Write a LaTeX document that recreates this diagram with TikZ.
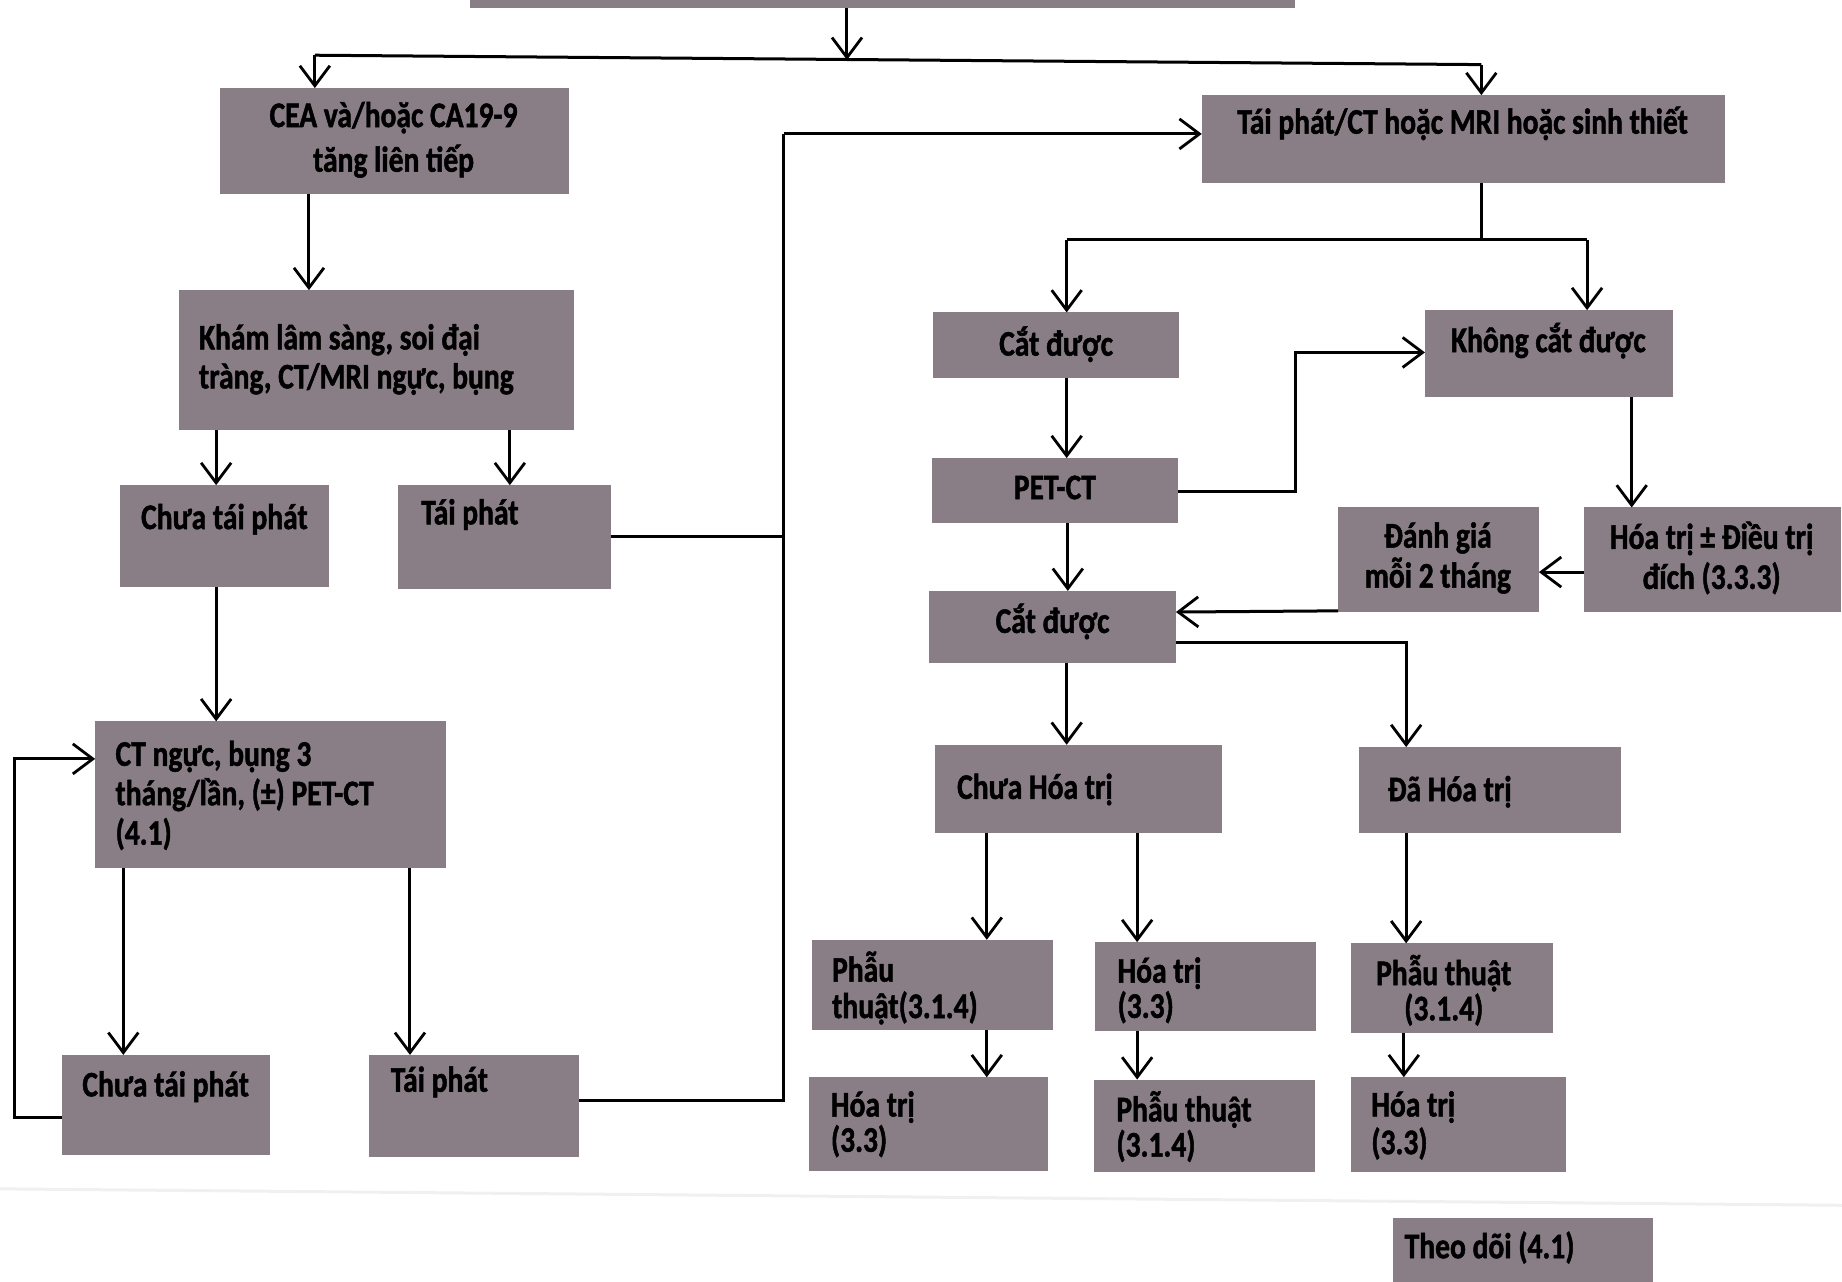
\documentclass[tikz,border=0pt]{standalone}
\usepackage{fontspec}
\setmainfont{Carlito}[FakeStretch=0.82, BoldFeatures={FakeBold=1.3}]
\usetikzlibrary{arrows.meta,fit}
\definecolor{boxfill}{RGB}{138,126,134}
\tikzset{
  box/.style={draw=none, fill=boxfill, inner sep=0pt, outer sep=0pt},
  txt/.style={font=\bfseries\fontsize{18}{20}\selectfont, text=black, inner sep=0pt},
  ln/.style={draw=black, line width=1.5pt},
  arr/.style={ln, -{Straight Barb[length=10pt,width=15pt,line width=1.4pt]}},
}
\begin{document}
\begin{tikzpicture}[x=0.587pt,y=-0.587pt]
\useasboundingbox (0,0) rectangle (1568,1091);
% faint scan seam
\draw[gray!12, line width=1.5pt] (0,1012) -- (1568,1026);
% boxes
\node[box, fit={(400,-20) (1102,7)}] (top) {};
\node[box, fit={(187,75) (484,165)}] (cea) {};
\node[box, fit={(152,247) (489,366)}] (kham) {};
\node[box, fit={(102,413) (280,500)}] (ctpa) {};
\node[box, fit={(339,413) (520,501)}] (tpa) {};
\node[box, fit={(81,614) (380,739)}] (ctn) {};
\node[box, fit={(53,898) (230,983)}] (ctpb) {};
\node[box, fit={(314,898) (493,985)}] (tpb) {};
\node[box, fit={(1023,81) (1468,156)}] (tpct) {};
\node[box, fit={(794,266) (1004,322)}] (cda) {};
\node[box, fit={(1213,264) (1424,338)}] (kcd) {};
\node[box, fit={(793,390) (1003,445)}] (pet) {};
\node[box, fit={(1348,432) (1567,521)}] (htd) {};
\node[box, fit={(1139,432) (1310,521)}] (dg) {};
\node[box, fit={(791,503) (1001,564)}] (cdb) {};
\node[box, fit={(796,634) (1040,709)}] (cht) {};
\node[box, fit={(1157,636) (1380,709)}] (dht) {};
\node[box, fit={(691,800) (896,877)}] (pta) {};
\node[box, fit={(932,802) (1120,878)}] (hta) {};
\node[box, fit={(1150,803) (1322,879)}] (ptb) {};
\node[box, fit={(689,917) (892,997)}] (htb) {};
\node[box, fit={(931,919) (1119,998)}] (ptc) {};
\node[box, fit={(1150,917) (1333,998)}] (htc) {};
\node[box, fit={(1186,1037) (1407,1100)}] (td) {};
% texts
\node[txt, align=center, font=\bfseries\fontsize{18}{22.3}\selectfont] (tcea) at (335,119) {CEA và/hoặc CA19-9\\tăng liên tiếp};
\node[txt, align=left, anchor=west, font=\bfseries\fontsize{18}{19.5}\selectfont] (tkham) at (169,306) {Khám lâm sàng, soi đại\\tràng, CT/MRI ngực, bụng};
\node[txt] (tctpa) at (191,442) {Chưa tái phát};
\node[txt] (ttpa) at (400,438) {Tái phát};
\node[txt, align=left, anchor=west, font=\bfseries\fontsize{18}{19.7}\selectfont] (tctn) at (98,677) {CT ngực, bụng 3\\tháng/lần, (±) PET-CT\\(4.1)};
\node[txt] (tctpb) at (141,925) {Chưa tái phát};
\node[txt] (ttpb) at (374,921) {Tái phát};
\node[txt] (ttpct) at (1245,105) {Tái phát/CT hoặc MRI hoặc sinh thiết};
\node[txt] (tcda) at (899,293) {Cắt được};
\node[txt] (tkcd) at (1318,290) {Không cắt được};
\node[txt] (tpet) at (898,415) {PET-CT};
\node[txt, align=center] (thtd) at (1457,475) {Hóa trị ± Điều trị\\đích (3.3.3)};
\node[txt, align=center] (tdg) at (1224,475) {Đánh giá\\mỗi 2 tháng};
\node[txt] (tcdb) at (896,529) {Cắt được};
\node[txt] (tcht) at (881,672) {Chưa Hóa trị};
\node[txt] (tdht) at (1234,674) {Đã Hóa trị};
\node[txt, align=left, anchor=west, font=\bfseries\fontsize{18}{18.2}\selectfont] (tpta) at (708,841) {Phẫu\\thuật(3.1.4)};
\node[txt, align=left, anchor=west, font=\bfseries\fontsize{18}{17.6}\selectfont] (thta) at (951,843) {Hóa trị\\(3.3)};
\node[txt, align=center, font=\bfseries\fontsize{18}{17.6}\selectfont] (tptb) at (1229,843) {Phẫu thuật\\(3.1.4)};
\node[txt, align=left, anchor=west, font=\bfseries\fontsize{18}{17.6}\selectfont] (thtb) at (707,957) {Hóa trị\\(3.3)};
\node[txt, align=left, anchor=west, font=\bfseries\fontsize{18}{17.6}\selectfont] (tptc) at (950,959) {Phẫu thuật\\(3.1.4)};
\node[txt, align=left, anchor=west, font=\bfseries\fontsize{18}{18.8}\selectfont] (thtc) at (1167,958) {Hóa trị\\(3.3)};
\node[txt] (ttd) at (1268,1062) {Theo dõi (4.1)};
% helper coordinates
\coordinate (hM) at (721,51);
\coordinate (hL) at (268,47);
\coordinate (hR) at (1261,55);
\coordinate (xa) at (263,0);
\coordinate (xb) at (184,0);
\coordinate (xc) at (434,0);
\coordinate (xd) at (105,0);
\coordinate (xe) at (349,0);
\coordinate (va) at (667,457);
\coordinate (vb) at (667,114);
\coordinate (vc) at (667,937);
\coordinate (la) at (12,951);
\coordinate (lb) at (12,646);
\coordinate (ra) at (1261,204);
\coordinate (rb) at (908,204);
\coordinate (rc) at (1351,204);
\coordinate (pa) at (1103,418);
\coordinate (pb) at (1103,300);
\coordinate (xf) at (1389,0);
\coordinate (yg) at (0,487);
\coordinate (ca) at (1197,547);
\coordinate (xh) at (840,0);
\coordinate (xi) at (968,0);
\coordinate (xj) at (1197,0);
\coordinate (xk) at (1195,0);
\coordinate (xl) at (909,0);
% connectors
\draw[arr] (top.south -| hM) -- (hM);
\draw[ln] (hL) -- (hR);
\draw[arr] (hL) -- (cea.north -| hL);
\draw[arr] (hR) -- (tpct.north -| hR);
\draw[arr] (cea.south -| xa) -- (kham.north -| xa);
\draw[arr] (kham.south -| xb) -- (ctpa.north -| xb);
\draw[arr] (kham.south -| xc) -- (tpa.north -| xc);
\draw[ln] (tpa.east |- va) -- (va);
\draw[ln] (tpb.east |- vc) -- (vc) -- (vb);
\draw[arr] (vb) -- (tpct.west |- vb);
\draw[arr] (ctpa.south -| xb) -- (ctn.north -| xb);
\draw[arr] (ctn.south -| xd) -- (ctpb.north -| xd);
\draw[arr] (ctn.south -| xe) -- (tpb.north -| xe);
\draw[arr] (ctpb.west |- la) -- (la) -- (lb) -- (ctn.west |- lb);
\draw[ln] (tpct.south -| ra) -- (ra);
\draw[ln] (rb) -- (rc);
\draw[arr] (rb) -- (cda.north -| rb);
\draw[arr] (rc) -- (kcd.north -| rc);
\draw[arr] (cda.south -| rb) -- (pet.north -| rb);
\draw[arr] (pet.east |- pa) -- (pa) -- (pb) -- (kcd.west |- pb);
\draw[arr] (kcd.south -| xf) -- (htd.north -| xf);
\draw[arr] (htd.west |- yg) -- (dg.east |- yg);
\draw[arr] ([yshift=0.6pt]dg.south west) -- (cdb.east |- dg.south west);
\draw[arr] (pet.south -| xl) -- (cdb.north -| xl);
\draw[arr] (cdb.east |- ca) -- (ca) -- (dht.north -| ca);
\draw[arr] (cdb.south -| rb) -- (cht.north -| rb);
\draw[arr] (cht.south -| xh) -- (pta.north -| xh);
\draw[arr] (cht.south -| xi) -- (hta.north -| xi);
\draw[arr] (dht.south -| xj) -- (ptb.north -| xj);
\draw[arr] (pta.south -| xh) -- (htb.north -| xh);
\draw[arr] (hta.south -| xi) -- (ptc.north -| xi);
\draw[arr] (ptb.south -| xk) -- (htc.north -| xk);
\end{tikzpicture}
\end{document}
